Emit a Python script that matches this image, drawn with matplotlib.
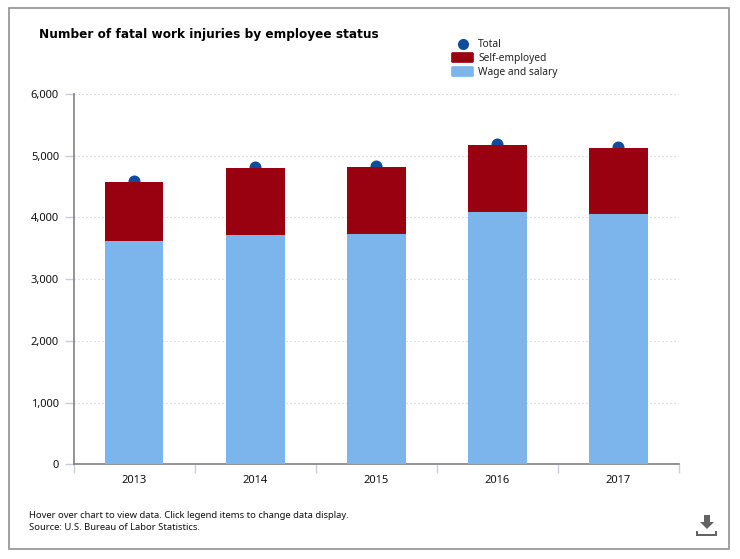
import matplotlib
matplotlib.use("Agg")
import matplotlib.pyplot as plt
from matplotlib.patches import Rectangle, FancyBboxPatch, Polygon
from matplotlib.lines import Line2D
from matplotlib.ticker import FuncFormatter

years = ["2013", "2014", "2015", "2016", "2017"]
wage_salary = [3620, 3710, 3730, 4090, 4055]
self_employed = [955, 1091, 1088, 1084, 1071]
total = [4585, 4821, 4836, 5190, 5147]

W, H = 740, 559
BLUE, RED, NAVY = "#7cb5ec", "#990010", "#0f4d9c"
plt.rcParams["font.family"] = ["Noto Sans", "DejaVu Sans"]

fig = plt.figure(figsize=(W / 100, H / 100), dpi=100, facecolor="white")
def fx(x): return x / W
def fy(y): return 1 - y / H

fig.add_artist(Rectangle((fx(8.5), fy(548.5)), 720.5 / W, 540.5 / H, transform=fig.transFigure,
                         fill=False, ec="#9a9a9a", lw=1.3))

ax = fig.add_axes([fx(73.5), fy(464.3), 605.5 / W, 370.3 / H])
x = range(len(years))
ax.scatter(x, total, s=75, color=NAVY, zorder=2, clip_on=False, linewidths=0)
ax.bar(x, wage_salary, width=0.485, color=BLUE, zorder=3)
ax.bar(x, self_employed, width=0.485, bottom=wage_salary, color=RED, zorder=3)

ax.set_xlim(-0.5, 4.5)
ax.set_ylim(0, 6000)
ax.set_yticks(range(0, 7000, 1000))
ax.yaxis.set_major_formatter(FuncFormatter(lambda v, _: f"{int(v):,}"))
ax.set_xticks([i for i in x])
ax.set_xticklabels(years)
ax.set_xticks([i - 0.5 for i in range(6)], minor=True)
ax.tick_params(axis="x", which="major", length=0, pad=7.5, labelsize=8, labelcolor="#111111")
ax.tick_params(axis="x", which="minor", length=6.5, color="#c6d0e0", width=1)
ax.tick_params(axis="y", length=6.5, color="#c6d0e0", width=1, pad=4, labelsize=8, labelcolor="#111111")
ax.grid(axis="y", color="#cccccc", linestyle=(0, (1, 2.6)), linewidth=0.8, zorder=0)
ax.set_axisbelow(True)
for s in ("top", "right"):
    ax.spines[s].set_visible(False)
for s in ("left", "bottom"):
    ax.spines[s].set_color("#808080")
    ax.spines[s].set_linewidth(1.2)

fig.text(fx(39), fy(34.5), "Number of fatal work injuries by employee status", fontsize=8.75,
         fontweight="bold", family="DejaVu Sans", color="black", va="center", ha="left")

# legend
fig.add_artist(Line2D([fx(462.5)], [fy(44)], marker="o", ms=8, color=NAVY, mew=0,
                      transform=fig.transFigure))
for y0, c in ((52.5, RED), (66.5, BLUE)):
    fig.add_artist(FancyBboxPatch((fx(451.5), fy(y0 + 10)), 22 / W, 10 / H, transform=fig.transFigure,
                                  boxstyle="round,pad=0,rounding_size=0.002", fc=c, ec=c, lw=0.5))
for y0, t in ((44.5, "Total"), (58.5, "Self-employed"), (72.5, "Wage and salary")):
    fig.text(fx(478), fy(y0), t, fontsize=7.35, color="#222222", va="center", ha="left")

# footer
fig.text(fx(29), fy(516), "Hover over chart to view data. Click legend items to change data display.",
         fontsize=6.8, color="#111111", va="center")
fig.text(fx(29), fy(528), "Source: U.S. Bureau of Labor Statistics.", fontsize=6.8, color="#111111", va="center")

# download icon
g = "#636363"
fig.add_artist(Polygon([(fx(x_), fy(y_)) for x_, y_ in
                        [(704, 515), (710, 515), (710, 522), (714, 522), (707, 529), (700, 522), (704, 522)]],
                       transform=fig.transFigure, fc=g, ec="none"))
fig.add_artist(Polygon([(fx(x_), fy(y_)) for x_, y_ in
                        [(696, 530.5), (698, 530.5), (698, 533.5), (715, 533.5), (715, 530.5), (717, 530.5), (717, 536), (696, 536)]],
                       transform=fig.transFigure, fc=g, ec="none"))

fig.savefig("out.png", dpi=100)
